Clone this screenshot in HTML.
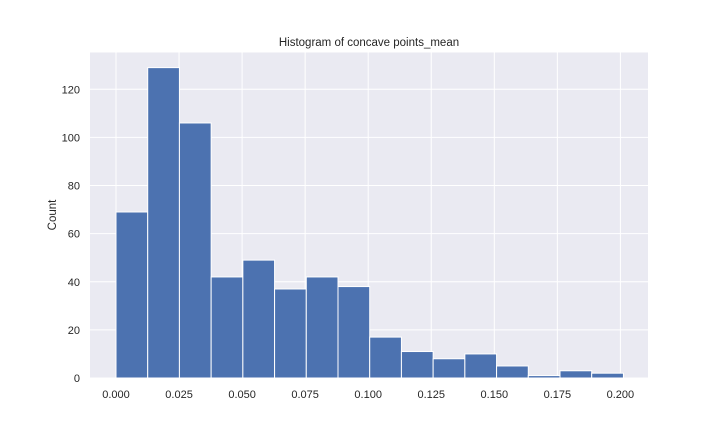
<!DOCTYPE html>
<html><head><meta charset="utf-8"><style>
body{margin:0;background:#fff;}
svg{display:block;font-family:"Liberation Sans","DejaVu Sans",sans-serif;}
</style></head><body>
<svg id="chart" width="720" height="432">
<rect x="90" y="52.5" width="558" height="325.5" fill="#eaeaf2"/>
<g id="grid"></g><g id="bars"></g><g id="ticks"></g>
<text x="369" y="46" text-anchor="middle" font-size="11.5" fill="#262626">Histogram of concave points_mean</text>
<text transform="translate(56,215) rotate(-90)" text-anchor="middle" font-size="11.5" fill="#262626">Count</text>
</svg>
<script>
const counts=[69,129,106,42,49,37,42,38,17,11,8,10,5,1,3,2];
const binStart=0, binMax=0.2012;
const xTicks=[0,0.025,0.05,0.075,0.1,0.125,0.15,0.175,0.2];
const xTickLabels=["0.000","0.025","0.050","0.075","0.100","0.125","0.150","0.175","0.200"];
const yTicks=[0,20,40,60,80,100,120];
const NS="http://www.w3.org/2000/svg";
const xs=v=>116+v*2522;
const ys=v=>378-v*2.406;
function mk(tag,attrs,parent){const e=document.createElementNS(NS,tag);for(const k in attrs)e.setAttribute(k,attrs[k]);document.getElementById(parent).appendChild(e);return e;}
xTicks.forEach((t,i)=>{
 const g=mk('line',{x1:xs(t),x2:xs(t),y1:52.5,y2:378,stroke:'#fff','stroke-width':1},'grid');
 
 
 const l=mk('text',{x:xs(t),y:398,'text-anchor':'middle','font-size':11,fill:'#262626'},'ticks');
 l.textContent=xTickLabels[i];
 
 
});
yTicks.forEach(t=>{
 const g=mk('line',{x1:90,x2:648,y1:ys(t),y2:ys(t),stroke:'#fff','stroke-width':1},'grid');
 
 
 const l=mk('text',{x:80,y:ys(t)+4,'text-anchor':'end','font-size':11,fill:'#262626'},'ticks');
 l.textContent=t;
 
 
});
const w=(binMax-binStart)/counts.length;
counts.forEach((c,i)=>{
 const x0=xs(binStart+i*w),x1=xs(binStart+(i+1)*w);
 const r=mk('rect',{x:x0,y:ys(c),width:x1-x0,height:378-ys(c),fill:'#4c72b0',stroke:'#fff','stroke-width':1},'bars');
 
 
});
</script>
</body></html>
